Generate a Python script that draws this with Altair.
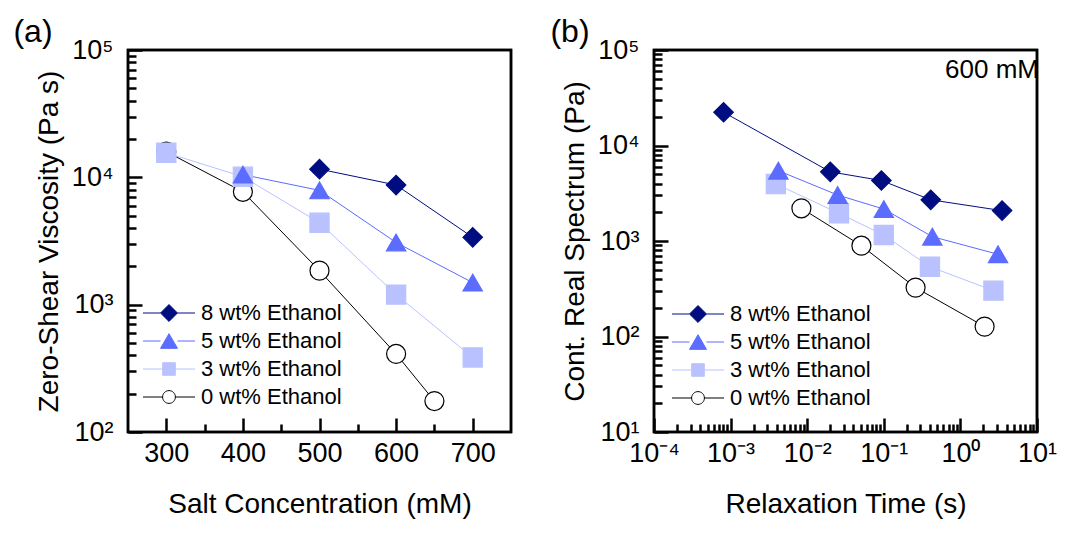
import math
import altair as alt
import pandas as pd

FONT = "Liberation Sans"

SERIES = ["8 wt% Ethanol", "5 wt% Ethanol", "3 wt% Ethanol", "0 wt% Ethanol"]
STROKES = ["#000D80", "#5B6CFF", "#B9C2FF", "#000000"]
FILLS = ["#000D80", "#5B6CFF", "#B9C2FF", "#FFFFFF"]
SHAPES = ["diamond", "triangle-up", "square", "circle"]
SIZES = [380, 361, 210, 200]

# ---- panel (a): zero-shear viscosity vs salt concentration ----
a_conc_0 = [300, 400, 500, 600, 650]
a_visc_0 = [15900, 7700, 1850, 410, 175]
a_conc_3 = [300, 400, 500, 600, 700]
a_visc_3 = [15600, 10100, 4400, 1200, 385]
a_conc_5 = [400, 500, 600, 700]
a_visc_5 = [10500, 7900, 3080, 1490]
a_conc_8 = [500, 600, 700]
a_visc_8 = [11600, 8700, 3380]

# ---- panel (b): continuous relaxation spectrum at 600 mM ----
b_tau_0 = [0.0084, 0.051, 0.26, 2.07]
b_h_0 = [2200, 893, 325, 127]
b_tau_3 = [0.0039, 0.026, 0.10, 0.40, 2.7]
b_h_3 = [3950, 1950, 1155, 538, 302]
b_tau_5 = [0.0042, 0.025, 0.10, 0.43, 3.1]
b_h_5 = [5450, 3030, 2160, 1110, 726]
b_tau_8 = [0.00081, 0.020, 0.093, 0.41, 3.5]
b_h_8 = [22300, 5300, 4300, 2700, 2080]

# ---- axis ranges, ticks and labels ----
a_x_range = [250, 750]
a_y_range = [1e2, 1e5]
a_x_major = [300, 400, 500, 600, 700]
a_x_minor = [350, 450, 550, 650]
a_y_major = [1e2, 1e3, 1e4, 1e5]
a_y_labels = ["10²", "10³", "10⁴", "10⁵"]
b_x_range = [1e-4, 1e1]
b_y_range = [1e1, 1e5]
b_x_major = [1e-4, 1e-3, 1e-2, 1e-1, 1e0, 1e1]
b_x_labels = ["10⁻⁴", "10⁻³", "10⁻²", "10⁻¹", "10⁰", "10¹"]
b_y_major = [1e1, 1e2, 1e3, 1e4, 1e5]
b_y_labels = ["10¹", "10²", "10³", "10⁴", "10⁵"]


def log_minor(lo_exp, hi_exp):
    return [m * 10.0 ** e for e in range(lo_exp, hi_exp) for m in range(2, 10)]


def label_expr(values, labels):
    expr = "''"
    for v, lab in zip(values, labels):
        e = round(math.log10(v))
        expr = f"round(log(datum.value)/LN10) == {e} ? '{lab}' : {expr}"
    return expr


def legend_path(kind):
    L = 3.25
    if kind == "diamond":
        r = 1.06
        marker = f"M{-r},0L0,{-r}L{r},0L0,{r}Z"
    elif kind == "triangle-up":
        r = 1.06
        h = round(0.866 * r, 3)
        marker = f"M0,{-h}L{r},{h}L{-r},{h}Z"
    elif kind == "square":
        r = 0.79
        marker = f"M{-r},{-r}H{r}V{r}H{-r}Z"
    else:
        r = 0.8
        marker = f"M{-r},0A{r},{r},0,1,1,{r},0A{r},{r},0,1,1,{-r},0Z"
    return f"M{-L},0H{-r}M{r},0H{L}" + marker


def make_df(groups):
    rows = []
    for name, xs, ys in groups:
        for x, y in zip(xs, ys):
            rows.append({"series": name, "x": x, "y": y})
    return pd.DataFrame(rows)


df_a = make_df([
    ("0 wt% Ethanol", a_conc_0, a_visc_0),
    ("3 wt% Ethanol", a_conc_3, a_visc_3),
    ("5 wt% Ethanol", a_conc_5, a_visc_5),
    ("8 wt% Ethanol", a_conc_8, a_visc_8),
])
df_b = make_df([
    ("0 wt% Ethanol", b_tau_0, b_h_0),
    ("3 wt% Ethanol", b_tau_3, b_h_3),
    ("5 wt% Ethanol", b_tau_5, b_h_5),
    ("8 wt% Ethanol", b_tau_8, b_h_8),
])

W, H = 383, 382
TICK = dict(tickColor="black", tickWidth=2.5, domain=False, grid=False,
            labelFlush=False, labelOverlap=False)

stroke_scale = alt.Scale(domain=SERIES, range=STROKES)
fill_scale = alt.Scale(domain=SERIES, range=FILLS)
shape_scale = alt.Scale(domain=SERIES, range=SHAPES)
size_scale = alt.Scale(domain=SERIES, range=SIZES)
legend_shape_scale = alt.Scale(domain=SERIES, range=[legend_path(s) for s in SHAPES])


def axis(orient, values, size, labels=True, title=None, lexpr=None, lpad=16, tpad=14):
    kw = dict(orient=orient, values=values, tickSize=size, offset=-size, **TICK)
    if labels:
        kw.update(labelPadding=lpad, titlePadding=tpad, title=title)
        if lexpr:
            kw["labelExpr"] = lexpr
    else:
        kw.update(labels=False, title=None)
    return alt.Axis(**kw)


def panel(df, xscale, xmajor, xminor, xexpr, xtitle, yscale, ymajor, yminor, yexpr,
          ytitle, tag, tag_x, lx, ly, xr, yr, note=None):
    lines = alt.Chart(df).mark_line(strokeWidth=1).encode(
        x=alt.X("x:Q", scale=xscale,
                axis=axis("bottom", xmajor, 14, True, xtitle, xexpr, lpad=8, tpad=24)),
        y=alt.Y("y:Q", scale=yscale,
                axis=axis("left", ymajor, 14, True, ytitle, yexpr, lpad=15, tpad=8)),
        stroke=alt.Stroke("series:N", scale=stroke_scale, legend=None),
    )
    points = alt.Chart(df).mark_point(filled=True, opacity=1, strokeWidth=1.2).encode(
        x=alt.X("x:Q", scale=xscale, axis=axis("bottom", xminor, 8, False)),
        y=alt.Y("y:Q", scale=yscale, axis=axis("left", yminor, 8, False)),
        shape=alt.Shape("series:N", scale=shape_scale, legend=None),
        fill=alt.Fill("series:N", scale=fill_scale, legend=None),
        stroke=alt.Stroke("series:N", scale=stroke_scale, legend=None),
        size=alt.Size("series:N", scale=size_scale, legend=None),
    )
    leg = alt.Legend(title=None, orient="none", legendX=lx, legendY=ly, symbolSize=256,
                     symbolStrokeWidth=1, labelOffset=21, rowPadding=6, labelFontSize=22,
                     labelFont=FONT, labelColor="black", padding=0, symbolOpacity=1)
    legend_layer = alt.Chart(df).mark_point(filled=True, opacity=0).encode(
        x=alt.X("x:Q", scale=xscale, axis=None),
        y=alt.Y("y:Q", scale=yscale, axis=None),
        shape=alt.Shape("series:N", scale=legend_shape_scale, legend=leg),
        fill=alt.Fill("series:N", scale=fill_scale, legend=leg),
        stroke=alt.Stroke("series:N", scale=stroke_scale, legend=leg),
    )
    # plot frame drawn as a closed line through the corners of the axis ranges
    frame_df = pd.DataFrame({
        "fx": [xr[0], xr[1], xr[1], xr[0], xr[0]],
        "fy": [yr[0], yr[0], yr[1], yr[1], yr[0]],
        "o": [0, 1, 2, 3, 4],
    })
    frame_layer = alt.Chart(frame_df).mark_line(
        color="black", strokeWidth=2.5, strokeCap="square", strokeJoin="miter", opacity=1
    ).encode(
        x=alt.X("fx:Q", scale=xscale, axis=None),
        y=alt.Y("fy:Q", scale=yscale, axis=None),
        order=alt.Order("o:Q"),
    )
    tag_layer = alt.Chart(pd.DataFrame({"t": [tag]})).mark_text(
        font=FONT, fontSize=32, align="center", baseline="alphabetic", color="black"
    ).encode(text="t:N", x=alt.value(tag_x), y=alt.value(-8))
    layers = [lines, points, legend_layer, frame_layer, tag_layer]
    if note:
        layers.append(alt.Chart(pd.DataFrame({"t": [note]})).mark_text(
            font=FONT, fontSize=26, align="right", baseline="alphabetic", color="black"
        ).encode(text="t:N", x=alt.value(W + 2), y=alt.value(28)))
    return alt.layer(*layers).properties(width=W, height=H).resolve_scale(
        shape="independent", fill="independent", stroke="independent", size="independent"
    ).resolve_axis(x="independent", y="independent")


left = panel(
    df_a,
    alt.Scale(domain=a_x_range, nice=False, zero=False),
    a_x_major, a_x_minor, None, "Salt Concentration (mM)",
    alt.Scale(type="log", domain=a_y_range, nice=False),
    a_y_major, log_minor(2, 5), label_expr(a_y_major, a_y_labels),
    "Zero-Shear Viscosity (Pa s)", "(a)", -95, 30, 252, a_x_range, a_y_range,
)
right = panel(
    df_b,
    alt.Scale(type="log", domain=b_x_range, nice=False),
    b_x_major, log_minor(-4, 1), label_expr(b_x_major, b_x_labels), "Relaxation Time (s)",
    alt.Scale(type="log", domain=b_y_range, nice=False),
    b_y_major, log_minor(1, 5), label_expr(b_y_major, b_y_labels),
    "Cont. Real Spectrum (Pa)", "(b)", -84, 33, 253, b_x_range, b_y_range, note="600 mM",
)

chart = alt.hconcat(left, right, spacing=31).resolve_scale(
    shape="independent", fill="independent", stroke="independent", size="independent"
).properties(
    padding={"left": 4, "top": 6, "right": 0, "bottom": 0}
).configure_view(
    stroke="black", strokeWidth=2.5
).configure_axis(
    labelFont=FONT, titleFont=FONT, labelFontSize=27, titleFontSize=28,
    titleFontWeight="normal", labelColor="black", titleColor="black"
)

chart.save("out.html", embed_options={"renderer": "svg", "actions": False})
